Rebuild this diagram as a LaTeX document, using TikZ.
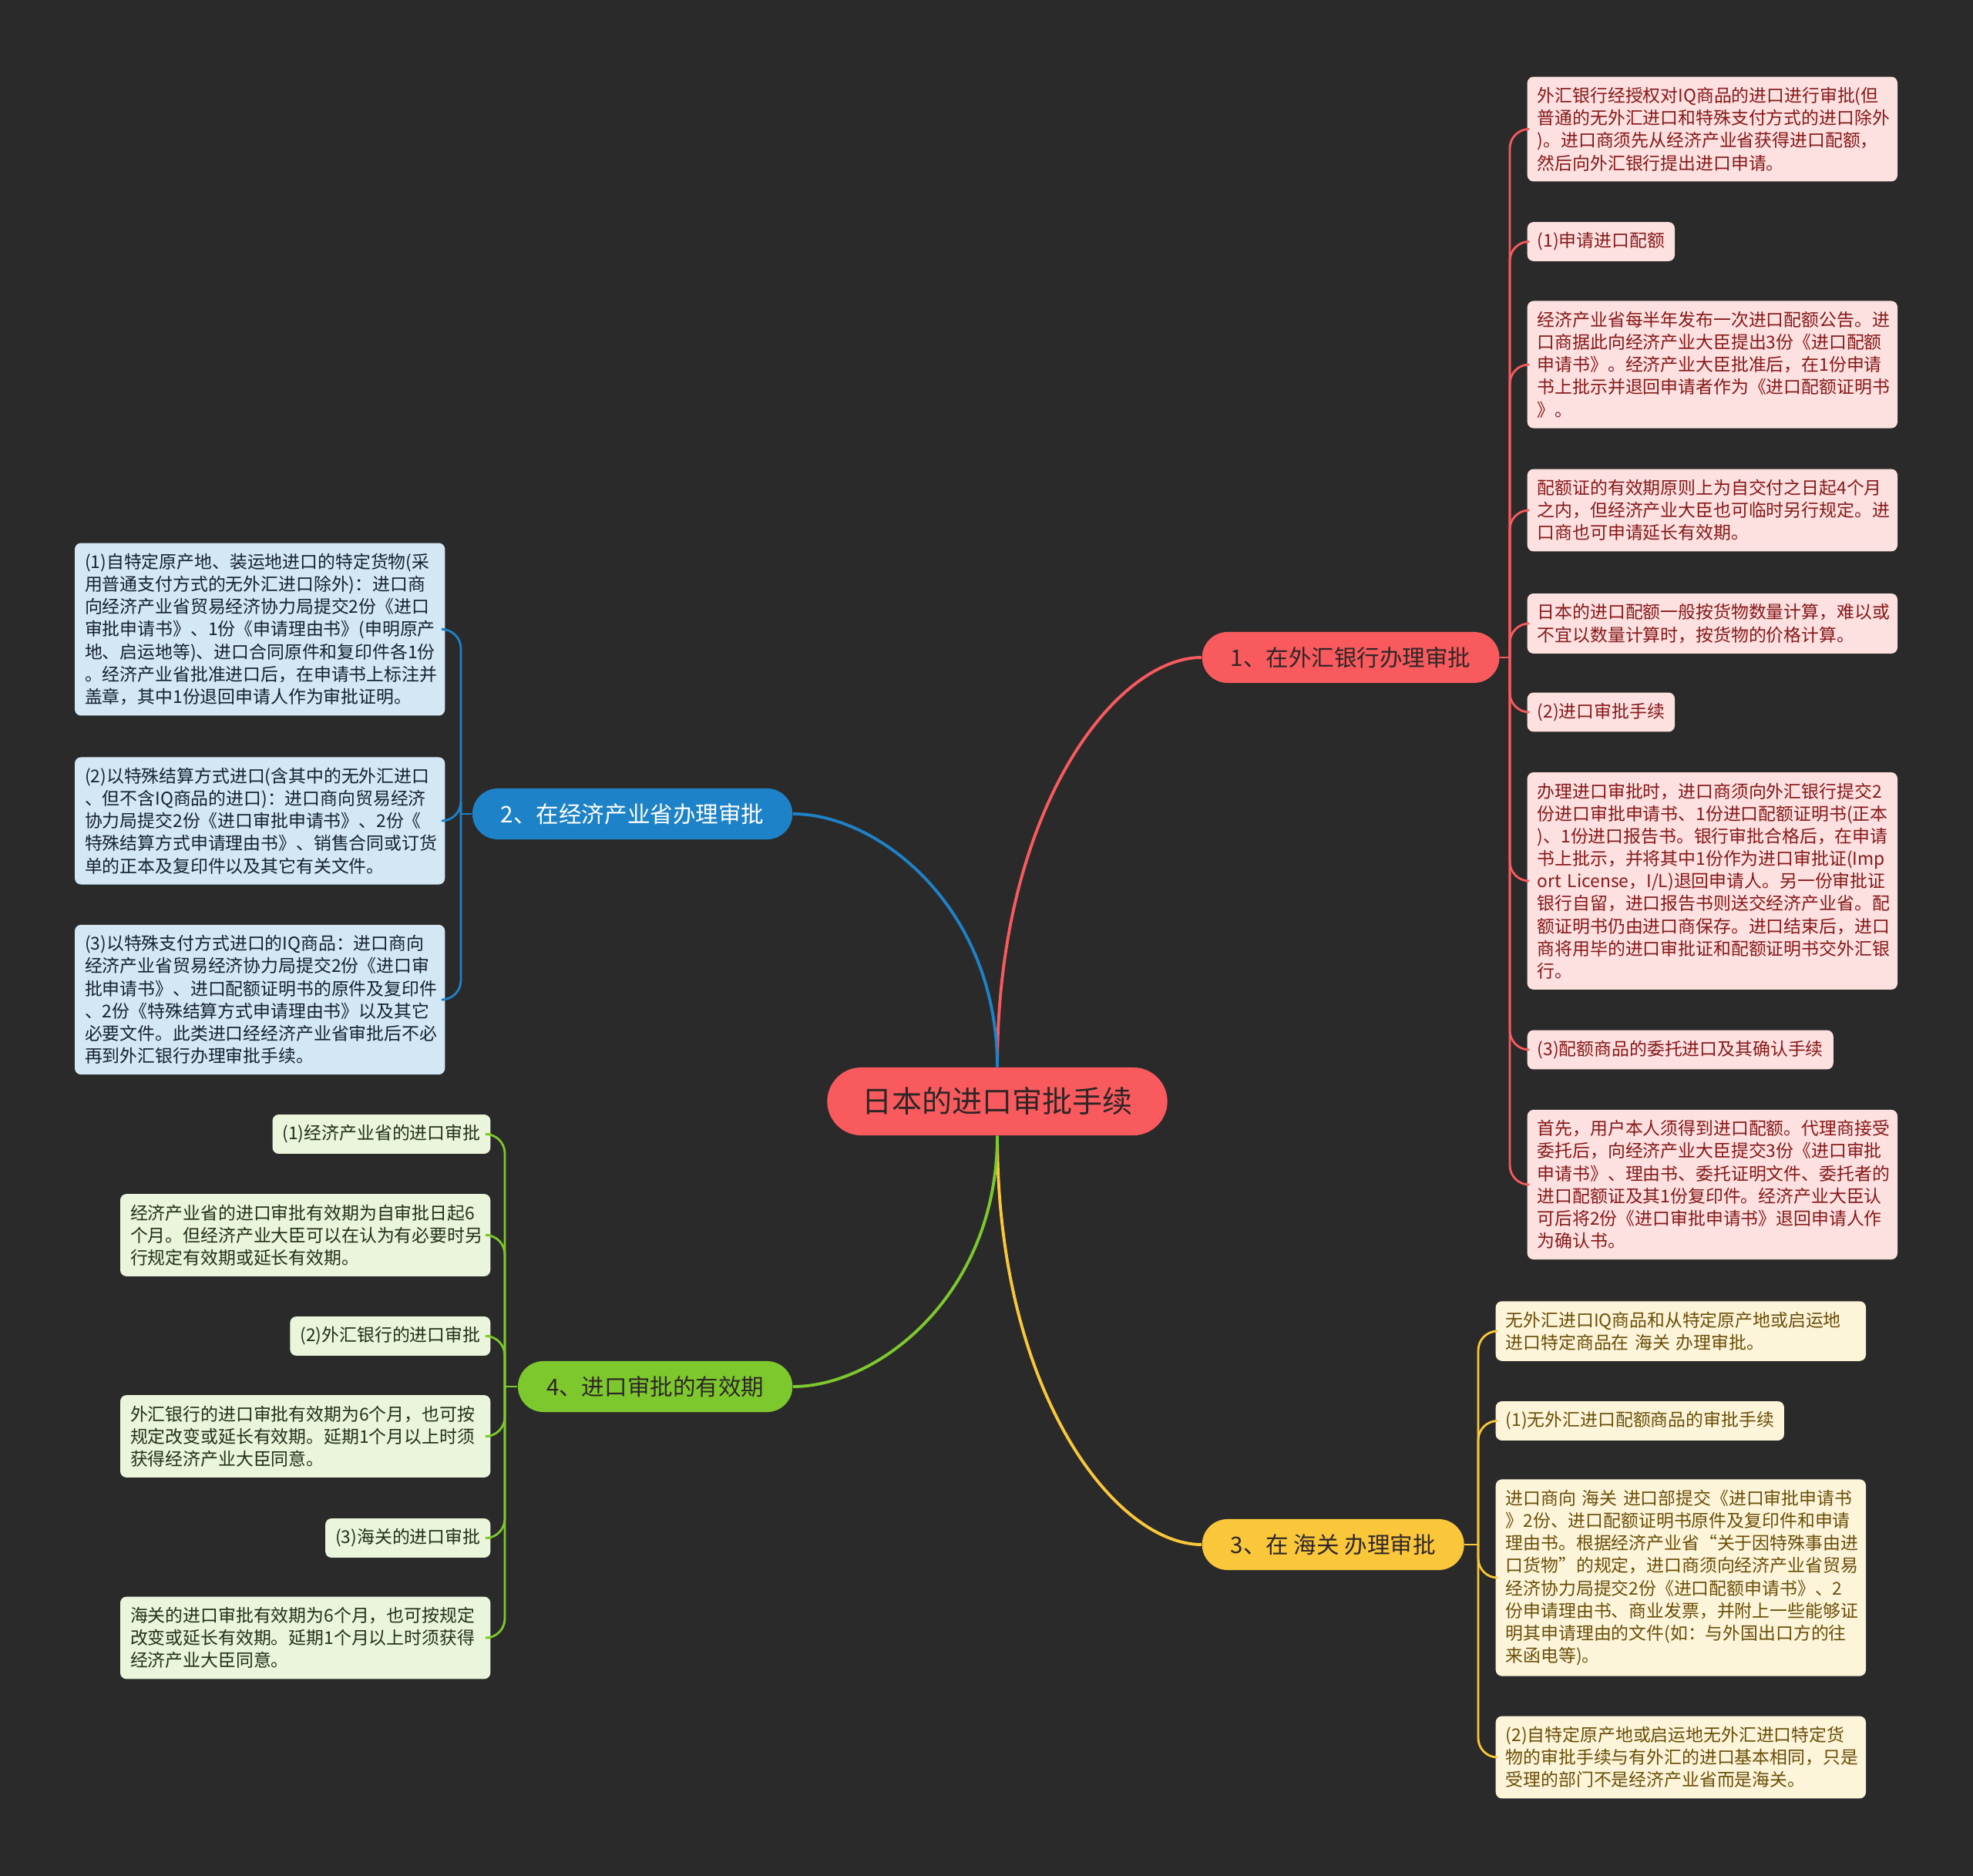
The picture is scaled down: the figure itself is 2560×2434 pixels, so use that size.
\documentclass[tikz,border=0pt]{standalone}
\usepackage{fontspec}
\setmainfont{Noto Sans CJK SC}
\setlength{\parindent}{0pt}
\definecolor{bgdark}{HTML}{2A2A2A}
\definecolor{redmain}{HTML}{F85A5E}
\definecolor{redpale}{HTML}{FDE1E1}
\definecolor{redtext}{HTML}{861818}
\definecolor{bluemain}{HTML}{1E82C8}
\definecolor{bluepale}{HTML}{D3E7F5}
\definecolor{bluetext}{HTML}{16222E}
\definecolor{yellowmain}{HTML}{FAC73A}
\definecolor{yellowpale}{HTML}{FDF5DA}
\definecolor{yellowtext}{HTML}{6A4E08}
\definecolor{greenmain}{HTML}{7DC82D}
\definecolor{greenpale}{HTML}{EAF5DB}
\definecolor{greentext}{HTML}{22301A}
\definecolor{darktext}{HTML}{2E2626}
\newcommand\leaffont{\fontsize{6.5}{8.3}\selectfont}
\tikzset{
  root/.style={fill=redmain,text=darktext,rounded corners=0.44cm,minimum height=0.88cm,inner xsep=0.45cm,font=\fontsize{11.1}{13}\selectfont},
  branch/.style={rounded corners=0.33cm,minimum height=0.66cm,inner xsep=0.37cm,font=\fontsize{8.4}{10}\selectfont},
  leaf/.style={rounded corners=0.08cm,inner xsep=0.13cm,inner ysep=0.135cm,font=\leaffont,align=left},
  longleaf/.style={leaf,text width=4.54cm},
  link/.style={line width=1.1pt},
  twig/.style={line width=0.8pt,rounded corners=0.25cm},
}
\begin{document}
\begin{tikzpicture}[x=0.01cm,y=-0.01cm]
\fill[bgdark] (0,0) rectangle (2560,2434);
\node[root] (root) at (1294,1429) {日本的进口审批手续};
\node[branch,fill=redmain,text=darktext,anchor=west] (b1) at (1559,853) {1、在外汇银行办理审批};
\node[branch,fill=bluemain,text=white,anchor=east] (b2) at (1029,1056) {2、在经济产业省办理审批};
\node[branch,fill=yellowmain,text=darktext,anchor=west] (b3) at (1559,2004) {3、在 海关 办理审批};
\node[branch,fill=greenmain,text=darktext,anchor=east] (b4) at (1029,1799) {4、进口审批的有效期};
\coordinate (s1) at (1959,853); \coordinate (s2) at (598,1056); \coordinate (s3) at (1918,2004); \coordinate (s4) at (655,1799);
\begin{scope}[every node/.append style={fill=redpale,text=redtext,anchor=west}]
\node[longleaf] (r1) at (1981,167.5) {外汇银行经授权对IQ商品的进口进行审批(但\\普通的无外汇进口和特殊支付方式的进口除外\\)。进口商须先从经济产业省获得进口配额，\\然后向外汇银行提出进口申请。};
\node[leaf] (r2) at (1981,313.5) {(1)申请进口配额};
\node[longleaf] (r3) at (1981,473) {经济产业省每半年发布一次进口配额公告。进\\口商据此向经济产业大臣提出3份《进口配额\\申请书》。经济产业大臣批准后，在1份申请\\书上批示并退回申请者作为《进口配额证明书\\》。};
\node[longleaf] (r4) at (1981,662) {配额证的有效期原则上为自交付之日起4个月\\之内，但经济产业大臣也可临时另行规定。进\\口商也可申请延长有效期。};
\node[longleaf] (r5) at (1981,809) {日本的进口配额一般按货物数量计算，难以或\\不宜以数量计算时，按货物的价格计算。};
\node[leaf] (r6) at (1981,924) {(2)进口审批手续};
\node[longleaf] (r7) at (1981,1143) {办理进口审批时，进口商须向外汇银行提交2\\份进口审批申请书、1份进口配额证明书(正本\\)、1份进口报告书。银行审批合格后，在申请\\书上批示，并将其中1份作为进口审批证(Imp\\ort License，I/L)退回申请人。另一份审批证\\银行自留，进口报告书则送交经济产业省。配\\额证明书仍由进口商保存。进口结束后，进口\\商将用毕的进口审批证和配额证明书交外汇银\\行。};
\node[leaf] (r8) at (1981,1362) {(3)配额商品的委托进口及其确认手续};
\node[longleaf] (r9) at (1981,1537) {首先，用户本人须得到进口配额。代理商接受\\委托后，向经济产业大臣提交3份《进口审批\\申请书》、理由书、委托证明文件、委托者的\\进口配额证及其1份复印件。经济产业大臣认\\可后将2份《进口审批申请书》退回申请人作\\为确认书。};
\end{scope}
\begin{scope}[every node/.append style={fill=bluepale,text=bluetext,anchor=east}]
\node[longleaf] (l1) at (578,816.5) {(1)自特定原产地、装运地进口的特定货物(采\\用普通支付方式的无外汇进口除外)：进口商\\向经济产业省贸易经济协力局提交2份《进口\\审批申请书》、1份《申请理由书》(申明原产\\地、启运地等)、进口合同原件和复印件各1份\\。经济产业省批准进口后，在申请书上标注并\\盖章，其中1份退回申请人作为审批证明。};
\node[longleaf] (l2) at (578,1065) {(2)以特殊结算方式进口(含其中的无外汇进口\\、但不含IQ商品的进口)：进口商向贸易经济\\协力局提交2份《进口审批申请书》、2份《\\特殊结算方式申请理由书》、销售合同或订货\\单的正本及复印件以及其它有关文件。};
\node[longleaf] (l3) at (578,1297) {(3)以特殊支付方式进口的IQ商品：进口商向\\经济产业省贸易经济协力局提交2份《进口审\\批申请书》、进口配额证明书的原件及复印件\\、2份《特殊结算方式申请理由书》以及其它\\必要文件。此类进口经经济产业省审批后不必\\再到外汇银行办理审批手续。};
\end{scope}
\begin{scope}[every node/.append style={fill=yellowpale,text=yellowtext,anchor=west}]
\node[longleaf] (y1) at (1940,1727) {无外汇进口IQ商品和从特定原产地或启运地\\进口特定商品在 海关 办理审批。};
\node[leaf] (y2) at (1940,1843.5) {(1)无外汇进口配额商品的审批手续};
\node[longleaf] (y3) at (1940,2047) {进口商向 海关 进口部提交《进口审批申请书\\》2份、进口配额证明书原件及复印件和申请\\理由书。根据经济产业省“关于因特殊事由进\\口货物”的规定，进口商须向经济产业省贸易\\经济协力局提交2份《进口配额申请书》、2\\份申请理由书、商业发票，并附上一些能够证\\明其申请理由的文件(如：与外国出口方的往\\来函电等)。};
\node[longleaf] (y4) at (1940,2280) {(2)自特定原产地或启运地无外汇进口特定货\\物的审批手续与有外汇的进口基本相同，只是\\受理的部门不是经济产业省而是海关。};
\end{scope}
\begin{scope}[every node/.append style={fill=greenpale,text=greentext,anchor=east}]
\node[leaf] (g1) at (637,1471.5) {(1)经济产业省的进口审批};
\node[longleaf] (g2) at (637,1602.5) {经济产业省的进口审批有效期为自审批日起6\\个月。但经济产业大臣可以在认为有必要时另\\行规定有效期或延长有效期。};
\node[leaf] (g3) at (637,1733.5) {(2)外汇银行的进口审批};
\node[longleaf] (g4) at (637,1863.5) {外汇银行的进口审批有效期为6个月，也可按\\规定改变或延长有效期。延期1个月以上时须\\获得经济产业大臣同意。};
\node[leaf] (g5) at (637,1995.5) {(3)海关的进口审批};
\node[longleaf] (g6) at (637,2125) {海关的进口审批有效期为6个月，也可按规定\\改变或延长有效期。延期1个月以上时须获得\\经济产业大臣同意。};
\end{scope}
\draw[link,redmain] (root.north) .. controls +(0,-335) and +(-111,0) .. (b1.west);
\draw[link,bluemain] (root.north) .. controls +(0,-207) and +(111,0) .. (b2.east);
\draw[link,yellowmain] (root.south) .. controls +(0,335) and +(-111,0) .. (b3.west);
\draw[link,greenmain] (root.south) .. controls +(0,205) and +(111,0) .. (b4.east);
\draw[twig,redmain] (b1.east) -- (s1);
\foreach \n in {r1,r2,r3,r4,r5,r6,r7,r8,r9} \draw[twig,redmain] (s1) |- (\n.west);
\draw[twig,bluemain] (b2.west) -- (s2);
\foreach \n in {l1,l2,l3} \draw[twig,bluemain] (s2) |- (\n.east);
\draw[twig,yellowmain] (b3.east) -- (s3);
\foreach \n in {y1,y2,y3,y4} \draw[twig,yellowmain] (s3) |- (\n.west);
\draw[twig,greenmain] (b4.west) -- (s4);
\foreach \n in {g1,g2,g3,g4,g5,g6} \draw[twig,greenmain] (s4) |- (\n.east);
\end{tikzpicture}
\end{document}
